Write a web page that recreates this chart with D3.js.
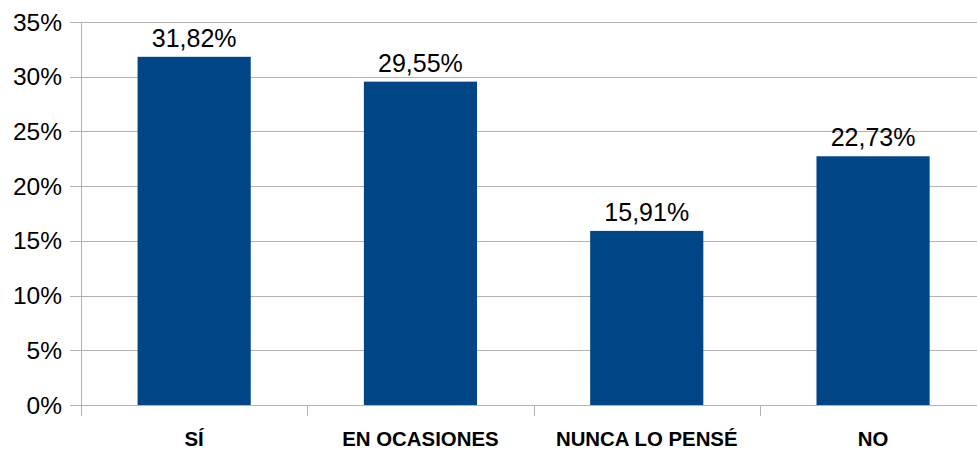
<!DOCTYPE html>
<html>
<head>
<meta charset="utf-8">
<script src="https://cdn.jsdelivr.net/npm/d3@7"></script>
<style>
  body { margin: 0; background: #fff; }
  svg { display: block; font-family: "Liberation Sans", Arial, sans-serif; }
</style>
</head>
<body>
<svg width="977" height="450"></svg>
<script>
var categories = ["SÍ", "EN OCASIONES", "NUNCA LO PENSÉ", "NO"];
var values = [31.82, 29.55, 15.91, 22.73];
var yTicks = [0, 5, 10, 15, 20, 25, 30, 35];

var plotLeft = 81, bandW = 226.3, plotTop = 22, plotBottom = 405;

var svg = d3.select("svg");

// scales
var x = d3.scaleBand()
    .domain(categories)
    .range([plotLeft, plotLeft + bandW * categories.length])
    .paddingInner(0).paddingOuter(0);
var y = d3.scaleLinear()
    .domain([0, 35])
    .range([plotBottom, plotTop]);

// gridlines
svg.append("g").selectAll("line")
    .data(yTicks)
  .enter().append("line")
    .attr("x1", 70).attr("x2", 977)
    .attr("y1", function(d) { return Math.round(y(d)) + 0.5; })
    .attr("y2", function(d) { return Math.round(y(d)) + 0.5; })
    .attr("stroke", "#b3b3b3").attr("stroke-width", 1);

// y labels
svg.append("g").selectAll("text")
    .data(yTicks)
  .enter().append("text")
    .attr("x", 62)
    .attr("y", function(d) { return y(d); })
    .attr("dy", "0.35em")
    .attr("text-anchor", "end")
    .attr("font-size", 24.5)
    .attr("fill", "#000")
    .text(function(d) { return d + "%"; });

// y axis line
svg.append("line")
    .attr("x1", plotLeft + 0.5).attr("x2", plotLeft + 0.5)
    .attr("y1", plotTop).attr("y2", plotBottom)
    .attr("stroke", "#b3b3b3");

// category boundary ticks
svg.append("g").selectAll("line")
    .data(categories)
  .enter().append("line")
    .attr("x1", function(d) { return Math.round(x(d)) + 0.5; })
    .attr("x2", function(d) { return Math.round(x(d)) + 0.5; })
    .attr("y1", plotBottom).attr("y2", 416)
    .attr("stroke", "#b3b3b3");

// bars
svg.append("g").selectAll("rect")
    .data(values)
  .enter().append("rect")
    .attr("x", function(d, i) { return x(categories[i]) + bandW / 4; })
    .attr("width", bandW / 2)
    .attr("y", function(d) { return y(d); })
    .attr("height", function(d) { return plotBottom - y(d); })
    .attr("fill", "#004586");

// value labels
svg.append("g").selectAll("text")
    .data(values)
  .enter().append("text")
    .attr("x", function(d, i) { return x(categories[i]) + bandW / 2; })
    .attr("y", function(d) { return y(d) - 10; })
    .attr("text-anchor", "middle")
    .attr("font-size", 25)
    .attr("fill", "#000")
    .text(function(d) { return d.toFixed(2).replace(".", ",") + "%"; });

// category labels
svg.append("g").selectAll("text")
    .data(categories)
  .enter().append("text")
    .attr("x", function(d) { return x(d) + bandW / 2; })
    .attr("y", 446)
    .attr("text-anchor", "middle")
    .attr("font-size", 20.4)
    .attr("font-weight", "bold")
    .attr("fill", "#000")
    .text(function(d) { return d; });
</script>
</body>
</html>
